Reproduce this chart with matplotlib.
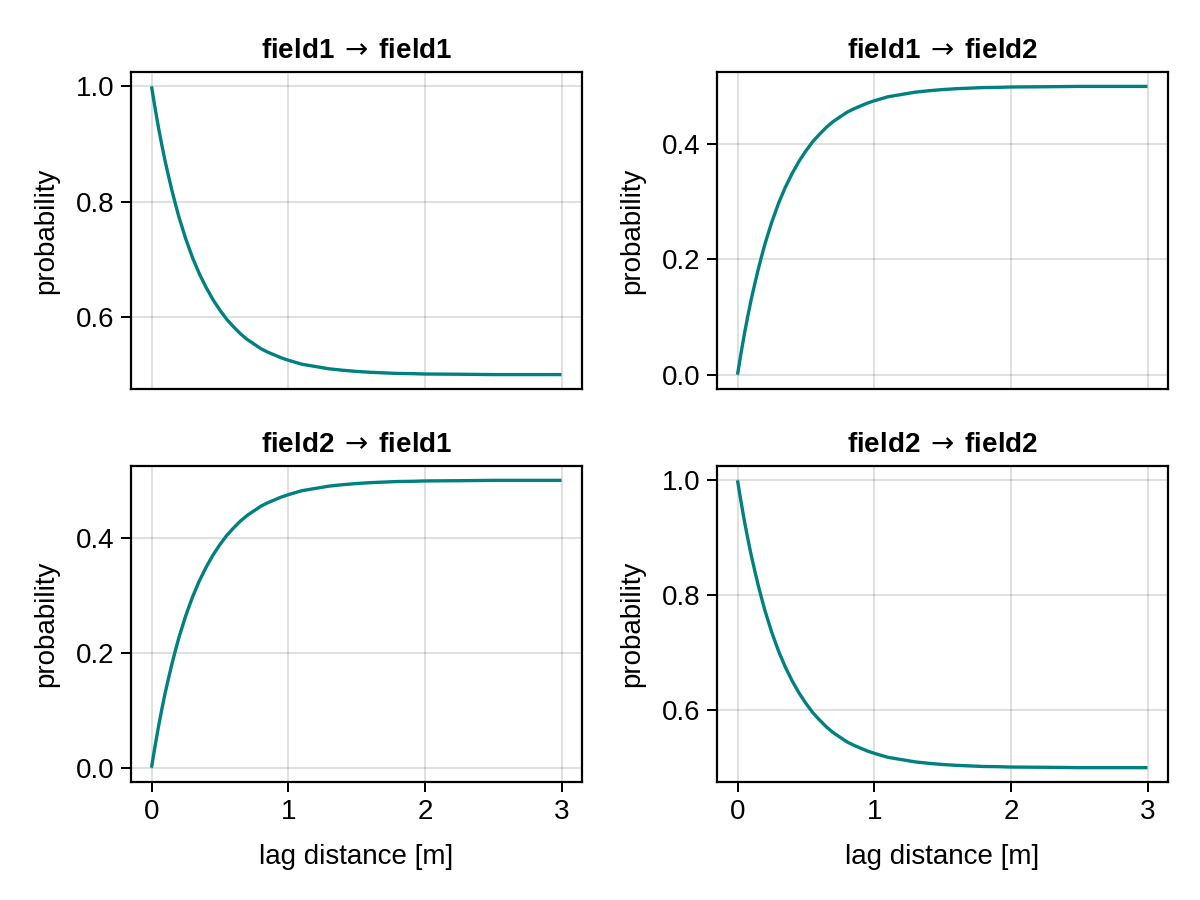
import matplotlib
matplotlib.use("Agg")
import matplotlib.pyplot as plt

plt.rcParams['font.family'] = ['Liberation Sans', 'DejaVu Sans']

# lag distances [m]
lag = [0.0, 0.025, 0.05, 0.075, 0.1, 0.125, 0.15, 0.175, 0.2, 0.25, 0.3, 0.35, 0.4,
       0.45, 0.5, 0.55, 0.6, 0.65, 0.7, 0.75, 0.8, 0.85, 0.9, 0.95, 1.0, 1.1, 1.2,
       1.3, 1.4, 1.5, 1.6, 1.7, 1.8, 1.9, 2.0, 2.25, 2.5, 3.0]

# transition probabilities
p11 = [1.0, 0.964, 0.930, 0.899, 0.870, 0.844, 0.819, 0.796, 0.774, 0.736, 0.703,
       0.675, 0.651, 0.630, 0.612, 0.596, 0.583, 0.571, 0.561, 0.553, 0.545, 0.539,
       0.534, 0.529, 0.525, 0.518, 0.514, 0.510, 0.5075, 0.5055, 0.504, 0.503, 0.502,
       0.5017, 0.501, 0.5006, 0.500, 0.500]
p12 = [0.0, 0.036, 0.070, 0.101, 0.130, 0.156, 0.181, 0.204, 0.226, 0.264, 0.297,
       0.325, 0.349, 0.370, 0.388, 0.404, 0.417, 0.429, 0.439, 0.447, 0.455, 0.461,
       0.466, 0.471, 0.475, 0.482, 0.486, 0.490, 0.4925, 0.4945, 0.496, 0.497, 0.498,
       0.4983, 0.499, 0.4994, 0.500, 0.500]
p21 = [0.0, 0.036, 0.070, 0.101, 0.130, 0.156, 0.181, 0.204, 0.226, 0.264, 0.297,
       0.325, 0.349, 0.370, 0.388, 0.404, 0.417, 0.429, 0.439, 0.447, 0.455, 0.461,
       0.466, 0.471, 0.475, 0.482, 0.486, 0.490, 0.4925, 0.4945, 0.496, 0.497, 0.498,
       0.4983, 0.499, 0.4994, 0.500, 0.500]
p22 = [1.0, 0.964, 0.930, 0.899, 0.870, 0.844, 0.819, 0.796, 0.774, 0.736, 0.703,
       0.675, 0.651, 0.630, 0.612, 0.596, 0.583, 0.571, 0.561, 0.553, 0.545, 0.539,
       0.534, 0.529, 0.525, 0.518, 0.514, 0.510, 0.5075, 0.5055, 0.504, 0.503, 0.502,
       0.5017, 0.501, 0.5006, 0.500, 0.500]

titles = ["field1\u2009${\\rightarrow}$\u2009field1", "field1\u2009${\\rightarrow}$\u2009field2",
          "field2\u2009${\\rightarrow}$\u2009field1", "field2\u2009${\\rightarrow}$\u2009field2"]
series = [p11, p12, p21, p22]
xticks = [0, 1, 2, 3]
yticks_diag = [0.6, 0.8, 1.0]
yticks_off = [0.0, 0.2, 0.4]

fig = plt.figure(figsize=(6, 4.5), dpi=200)

W, H = 1200, 900
boxes = [
    (131, 72, 582, 389),
    (717, 72, 1168, 389),
    (131, 466, 582, 782),
    (717, 466, 1168, 782),
]
teal = "#008080"
fs = 10

for i, (box, title, ys) in enumerate(zip(boxes, titles, series)):
    l, t, r, b = box
    ax = fig.add_axes([l / W, 1 - b / H, (r - l) / W, (b - t) / H])
    ax.plot(lag, ys, color=teal, linewidth=1.2, solid_capstyle='butt')
    ax.set_xlim(-0.15, 3.15)
    lo, hi = min(ys), max(ys)
    m = 0.05 * (hi - lo)
    ax.set_ylim(lo - m, hi + m)
    ax.set_xticks(xticks)
    ax.set_yticks(yticks_diag if i in (0, 3) else yticks_off)
    ax.yaxis.set_major_formatter(matplotlib.ticker.FormatStrFormatter('%.1f'))
    ax.grid(True, color='black', alpha=0.12, linewidth=0.72)
    ax.set_axisbelow(True)
    for s in ax.spines.values():
        s.set_linewidth(0.8)
        s.set_color('black')
    ax.tick_params(direction='out', length=3.6, width=0.72, labelsize=fs, pad=2.5)
    ax.set_title(title, fontsize=fs, fontweight='bold', pad=5)
    ax.set_ylabel("probability", fontsize=fs, labelpad=6)
    if i < 2:
        ax.tick_params(axis='x', bottom=False, labelbottom=False)
    else:
        ax.set_xlabel("lag distance [m]", fontsize=fs, labelpad=7)

fig.savefig("out.png", dpi=200)
